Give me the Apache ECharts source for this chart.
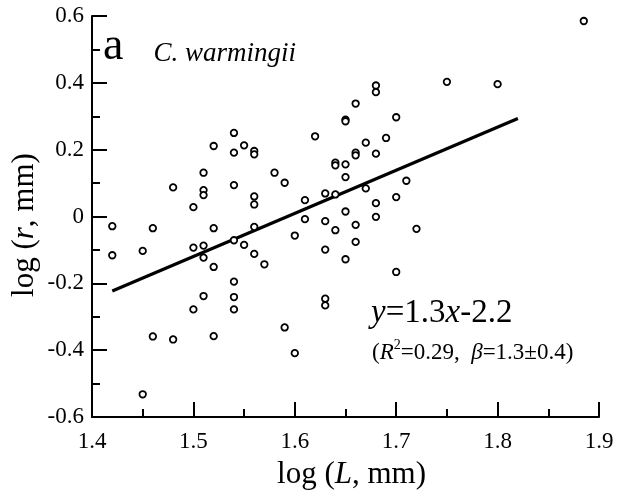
<!DOCTYPE html>
<html>
<head>
<meta charset="utf-8">
<script src="https://cdn.jsdelivr.net/npm/echarts@6/dist/echarts.min.js"></script>
<style>
html,body{margin:0;padding:0;background:#fff;}
#chart{width:619px;height:498px;}
</style>
</head>
<body>
<div id="chart"></div>
<script>
// log L values
const logL = [1.42,1.42,1.45,1.45,1.46,1.46,1.48,1.48,1.50,1.50,1.50,1.51,1.51,1.51,1.51,1.51,1.51,
  1.52,1.52,1.52,1.52,1.54,1.54,1.54,1.54,1.54,1.54,1.54,1.55,1.55,1.56,1.56,1.56,1.56,1.56,1.56,
  1.57,1.58,1.59,1.59,1.60,1.60,1.61,1.61,1.62,1.63,1.63,1.63,1.63,1.63,1.64,1.64,1.64,1.64,
  1.65,1.65,1.65,1.65,1.65,1.65,1.66,1.66,1.66,1.66,1.66,1.67,1.67,1.68,1.68,1.68,1.68,1.68,
  1.69,1.70,1.70,1.70,1.71,1.72,1.75,1.80,1.885];
// log r values
const logR = [-0.029,-0.116,-0.103,-0.532,-0.035,-0.359,0.087,-0.368,0.028,-0.093,-0.278,0.131,0.079,0.064,-0.087,-0.123,-0.238,
  0.211,-0.035,-0.151,-0.358,0.250,0.191,0.094,-0.071,-0.195,-0.241,-0.278,0.213,-0.085,0.196,0.186,0.060,0.036,-0.031,-0.112,
  -0.143,0.131,0.101,-0.332,-0.057,-0.409,0.049,-0.008,0.240,0.069,-0.014,-0.099,-0.246,-0.266,0.161,0.153,0.066,-0.041,
  0.290,0.285,0.156,0.118,0.015,-0.128,0.338,0.191,0.183,-0.025,-0.076,0.221,0.084,0.392,0.372,0.188,0.040,-0.001,
  0.235,0.297,0.058,-0.166,0.107,-0.037,0.403,0.396,0.585];
// regression line end points
const fitX = [1.42, 1.82];
const fitY = [-0.223, 0.293];
// axis ticks and their labels
const xTicks = [1.4, 1.5, 1.6, 1.7, 1.8, 1.9];
const xTickLabels = ['1.4', '1.5', '1.6', '1.7', '1.8', '1.9'];
const yTicks = [-0.6, -0.4, -0.2, 0, 0.2, 0.4, 0.6];
const yTickLabels = ['-0.6', '-0.4', '-0.2', '0', '0.2', '0.4', '0.6'];

const FONT = 'Liberation Serif';
const chart = echarts.init(document.getElementById('chart'));

const scatterData = logL.map((x, i) => [x, logR[i]]);
const lineData = fitX.map((x, i) => [x, fitY[i]]);

function axisStyles() {
  return {
    splitLine: {show: false},
    axisLine: {show: true, onZero: false, lineStyle: {color: '#000', width: 2}},
    axisTick: {show: true, inside: true, length: 15, lineStyle: {color: '#000', width: 2}},
    minorTick: {show: true, splitNumber: 2, length: 8, lineStyle: {color: '#000', width: 2}},
    axisLabel: {show: false}
  };
}
const nameRich = {
  n: {fontFamily: FONT, fontSize: 31, color: '#000'},
  i: {fontFamily: FONT, fontSize: 31, color: '#000', fontStyle: 'italic'}
};

const baseGraphics = [
  {
    type: 'text', left: 103, top: 24, z: 10,
    style: {
      text: '{a|a}{g| }{s|C. warmingii}',
      rich: {
        a: {fontFamily: FONT, fontSize: 46, fill: '#000', verticalAlign: 'bottom', lineHeight: 46},
        g: {fontFamily: FONT, fontSize: 26, fill: '#000', verticalAlign: 'bottom', lineHeight: 46, width: 30},
        s: {fontFamily: FONT, fontSize: 27, fill: '#000', fontStyle: 'italic', verticalAlign: 'bottom', lineHeight: 46, padding: [0,0,3,0]}
      }
    }
  },
  {
    type: 'text', left: 371, top: 297, z: 10,
    style: {
      text: '{i|y}{n|=1.3}{i|x}{n|-2.2}',
      rich: {
        n: {fontFamily: FONT, fontSize: 33, fill: '#000'},
        i: {fontFamily: FONT, fontSize: 33, fill: '#000', fontStyle: 'italic'}
      }
    }
  },
  {
    type: 'text', left: 372, top: 338, z: 10,
    style: {
      text: '{n|(}{i|R}{s|2}{n|=0.29,  }{i|β}{n|=1.3±0.4)}',
      rich: {
        n: {fontFamily: FONT, fontSize: 23, fill: '#000', lineHeight: 26, verticalAlign: 'bottom'},
        i: {fontFamily: FONT, fontSize: 23, fill: '#000', fontStyle: 'italic', lineHeight: 26, verticalAlign: 'bottom'},
        s: {fontFamily: FONT, fontSize: 14, fill: '#000', lineHeight: 26, verticalAlign: 'top'}
      }
    }
  }
];

const option = {
  animation: false,
  backgroundColor: '#fff',
  grid: {left: 92, right: 20, top: 16, bottom: 81},
  xAxis: Object.assign({
    type: 'value',
    min: xTicks[0], max: xTicks[xTicks.length - 1], interval: 0.1,
    name: '{n|log (}{i|L}{n|, mm)}',
    nameLocation: 'middle', nameGap: 42,
    nameTextStyle: {padding: [0, 0, 0, 12], rich: nameRich}
  }, axisStyles()),
  yAxis: Object.assign({
    type: 'value',
    min: yTicks[0], max: yTicks[yTicks.length - 1], interval: 0.2,
    name: '{n|log (}{i|r}{n|, mm)}',
    nameLocation: 'middle', nameGap: 52,
    nameTextStyle: {padding: [0, 17, 0, 0], rich: nameRich}
  }, axisStyles()),
  series: [
    {
      type: 'line',
      data: lineData,
      showSymbol: false,
      symbol: 'none',
      lineStyle: {color: '#000', width: 3.2},
      z: 2
    },
    {
      type: 'scatter',
      data: scatterData,
      symbol: 'circle',
      symbolSize: 6.5,
      itemStyle: {color: '#fff', borderColor: '#000', borderWidth: 1.8, opacity: 1},
      z: 3
    }
  ],
  graphic: baseGraphics
};
chart.setOption(option);

// Tick labels placed through the chart's own axis scales
const tickRich = {t: {fontFamily: FONT, fontSize: 23, fill: '#000', lineHeight: 23}};
const labelGraphics = [];
xTicks.forEach((v, i) => {
  const p = chart.convertToPixel({gridIndex: 0}, [v, yTicks[0]]);
  labelGraphics.push({
    type: 'text', x: p[0], y: p[1] + 13, z: 10, silent: true,
    style: {text: '{t|' + xTickLabels[i] + '}', rich: tickRich, align: 'center', verticalAlign: 'top'}
  });
});
yTicks.forEach((v, i) => {
  const p = chart.convertToPixel({gridIndex: 0}, [xTicks[0], v]);
  labelGraphics.push({
    type: 'text', x: p[0] - 8, y: p[1], z: 10, silent: true,
    style: {text: '{t|' + yTickLabels[i] + '}', rich: tickRich, align: 'right', verticalAlign: 'middle'}
  });
});
chart.setOption({graphic: baseGraphics.concat(labelGraphics)});
</script>
</body>
</html>
